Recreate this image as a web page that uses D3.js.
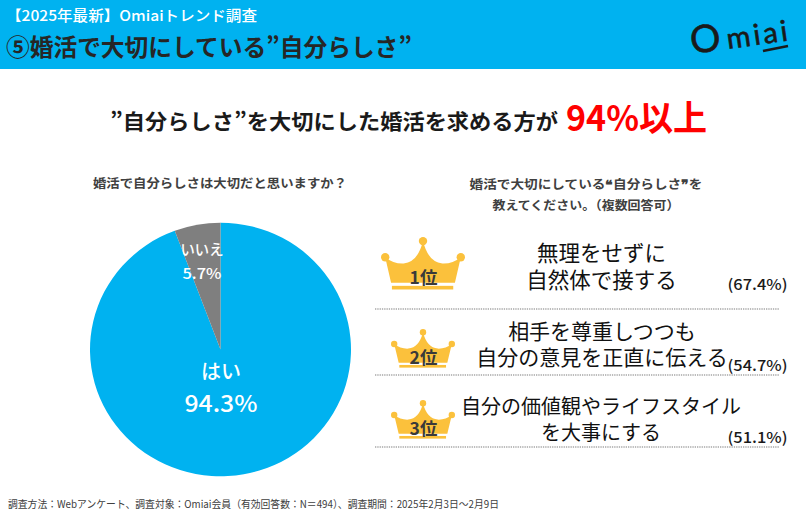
<!DOCTYPE html>
<html lang="ja">
<head>
<meta charset="utf-8">
<title>Omiaiトレンド調査</title>
<script src="https://d3js.org/d3.v7.min.js"></script>
<style>
  html, body { margin: 0; padding: 0; background: #fff; }
  svg { display: block; }
  text { font-family: "Noto Sans CJK JP", "Noto Sans", sans-serif; }
</style>
</head>
<body>
<div id="chart"></div>
<script>
// data
var pieLabels = ["はい", "いいえ"];
var pieValues = [94.3, 5.7];
var rankLabels = ["1位", "2位", "3位"];
var rankValues = [67.4, 54.7, 51.1];
var rankLines = [
  ["無理をせずに", "自然体で接する"],
  ["相手を尊重しつつも", "自分の意見を正直に伝える"],
  ["自分の価値観やライフスタイル", "を大事にする"]
];

var width = 806, height = 520;
var blue = "#00b2f0", dark = "#262626", grey = "#404040";

var svg = d3.select("#chart").append("svg")
  .attr("width", width)
  .attr("height", height);

// header band
svg.append("rect").attr("width", width).attr("height", 69).attr("fill", blue);

function label(x, y, str, size, opts) {
  opts = opts || {};
  var t = svg.append("text")
    .attr("x", x).attr("y", y)
    .attr("font-size", size)
    .attr("font-weight", opts.weight || 400)
    .attr("fill", opts.fill || dark)
    .attr("text-anchor", opts.anchor || "start")
    .text(str);
  if (opts.len) t.attr("textLength", opts.len).attr("lengthAdjust", "spacingAndGlyphs");
  return t;
}

label(6, 21, "【2025年最新】Omiaiトレンド調査", 14.5, {fill: "#fff", weight: 500, len: 251});
label(6, 56, "⑤婚活で大切にしている”自分らしさ”", 23.5, {weight: 700, len: 406});

// logo
var ink = "#1a1a1a";
var logo = svg.append("g").attr("transform", "translate(692,54) rotate(-8)");
var logoText = logo.append("text")
  .attr("fill", ink).attr("stroke", ink).attr("stroke-width", 0.6)
  .style("font-family", "Lato");
logoText.append("tspan").attr("font-size", 38).text("O");
logoText.append("tspan").attr("font-size", 29).attr("dx", 6).attr("letter-spacing", 3).text("miai");
logo.append("line")
  .attr("x1", 70.7).attr("x2", 96.2).attr("y1", 6.9).attr("y2", 5.4)
  .attr("stroke", ink).attr("stroke-width", 2.5);

// headline
label(110, 129, "”自分らしさ”を大切にした婚活を求める方が", 21, {weight: 700, fill: "#1a1a1a", len: 448});
label(566, 131, "94%以上", 35, {weight: 700, fill: "#ff0000", len: 141});

// pie, drawn slightly squashed like the original slide
var pieX = 220.5, pieY = 349.5, pieR = 130.5, pieSquash = 126.8 / 130.5;
var pie = d3.pie().sort(null).value(function(d) { return d; });
var arc = d3.arc().innerRadius(0).outerRadius(pieR);
var color = d3.scaleOrdinal().domain(pieLabels).range([blue, "#7f7f7f"]);

svg.append("g")
  .attr("transform", "translate(" + pieX + "," + pieY + ") scale(1," + pieSquash + ")")
  .selectAll("path")
  .data(pie(pieValues))
  .enter()
  .append("path")
  .attr("d", arc)
  .attr("fill", function(d, i) { return color(pieLabels[i]); });

label(220, 188, "婚活で自分らしさは大切だと思いますか？", 12.5, {weight: 700, fill: grey, anchor: "middle", len: 254});
label(221, 379, pieLabels[0], 20, {weight: 500, fill: "#fff", anchor: "middle"});
label(221, 412, pieValues[0] + "%", 23, {weight: 500, fill: "#fff", anchor: "middle", len: 73});
label(202, 255, pieLabels[1], 15, {weight: 500, fill: "#fff", anchor: "middle", len: 43});
label(202, 279, pieValues[1] + "%", 15, {weight: 500, fill: "#fff", anchor: "middle", len: 39});

// ranking
label(586, 189, "婚活で大切にしている❝自分らしさ❞を", 12.5, {weight: 700, fill: grey, anchor: "middle", len: 233});
label(586, 210, "教えてください。（複数回答可）", 12.5, {weight: 700, fill: grey, anchor: "middle", len: 187});

var crownColor = "#fbc13c";
var crowns = [
  {x: 381, y: 238, w: 84, h: 52},
  {x: 391, y: 330, w: 64, h: 38},
  {x: 391, y: 401, w: 64, h: 38}
];
var textTop = [261, 339, 414];
var lineGap = [27, 26, 26];
var textCx = [601.5, 602, 601];
var textSize = [21.5, 21, 20];
var rowBottom = [309, 375, 447];
var valueY = [290, 371, 443];

rankLabels.forEach(function(r, i) {
  var c = crowns[i];
  var sx = d3.scaleLinear().domain([0, 100]).range([c.x, c.x + c.w]);
  var sy = d3.scaleLinear().domain([0, 100]).range([c.y, c.y + c.h]);
  var g = svg.append("g");
  g.append("path")
    .attr("d", "M" + sx(5) + "," + sy(37) +
      " Q" + sx(15) + "," + sy(50) + " " + sx(27) + "," + sy(49) +
      " Q" + sx(44) + "," + sy(46) + " " + sx(50) + "," + sy(6) +
      " Q" + sx(56) + "," + sy(46) + " " + sx(73) + "," + sy(49) +
      " Q" + sx(85) + "," + sy(50) + " " + sx(95) + "," + sy(37) +
      " L" + sx(88) + "," + sy(86) + " L" + sx(12) + "," + sy(86) + " Z")
    .attr("fill", crownColor);
  g.selectAll("circle")
    .data([[5, 37], [50, 6], [95, 37]])
    .enter().append("circle")
    .attr("cx", function(d) { return sx(d[0]); })
    .attr("cy", function(d) { return sy(d[1]); })
    .attr("r", c.w * 0.05)
    .attr("fill", crownColor);
  g.append("rect")
    .attr("x", sx(13)).attr("width", sx(86) - sx(13))
    .attr("y", sy(92)).attr("height", c.h * 0.07)
    .attr("fill", crownColor);
  label(c.x + c.w / 2 + 0.5, sy(87) + 1, r, 17.5, {weight: 700, fill: "#3a3a3a", anchor: "middle"});

  // one text element per reason, two lines as tspans
  var reason = svg.append("text")
    .attr("y", textTop[i])
    .attr("font-size", textSize[i])
    .attr("fill", "#111")
    .attr("text-anchor", "middle");
  rankLines[i].forEach(function(s, j) {
    reason.append("tspan")
      .attr("x", textCx[i])
      .attr("dy", j == 0 ? 0 : lineGap[i])
      .text(s);
  });

  label(757.5, valueY[i], "(" + rankValues[i] + "%)", 15, {weight: 500, fill: "#1a1a1a", anchor: "middle", len: 60});

  svg.append("line")
    .attr("x1", 375).attr("x2", 779)
    .attr("y1", rowBottom[i]).attr("y2", rowBottom[i])
    .attr("stroke", "#a6a6a6").attr("stroke-width", 1.3)
    .attr("stroke-dasharray", "1.3 1");
});

// footnote
label(8, 508, "調査方法：Webアンケート、調査対象：Omiai会員（有効回答数：N＝494）、調査期間：2025年2月3日～2月9日", 10.5, {fill: "#404040", len: 491});
</script>
</body>
</html>
